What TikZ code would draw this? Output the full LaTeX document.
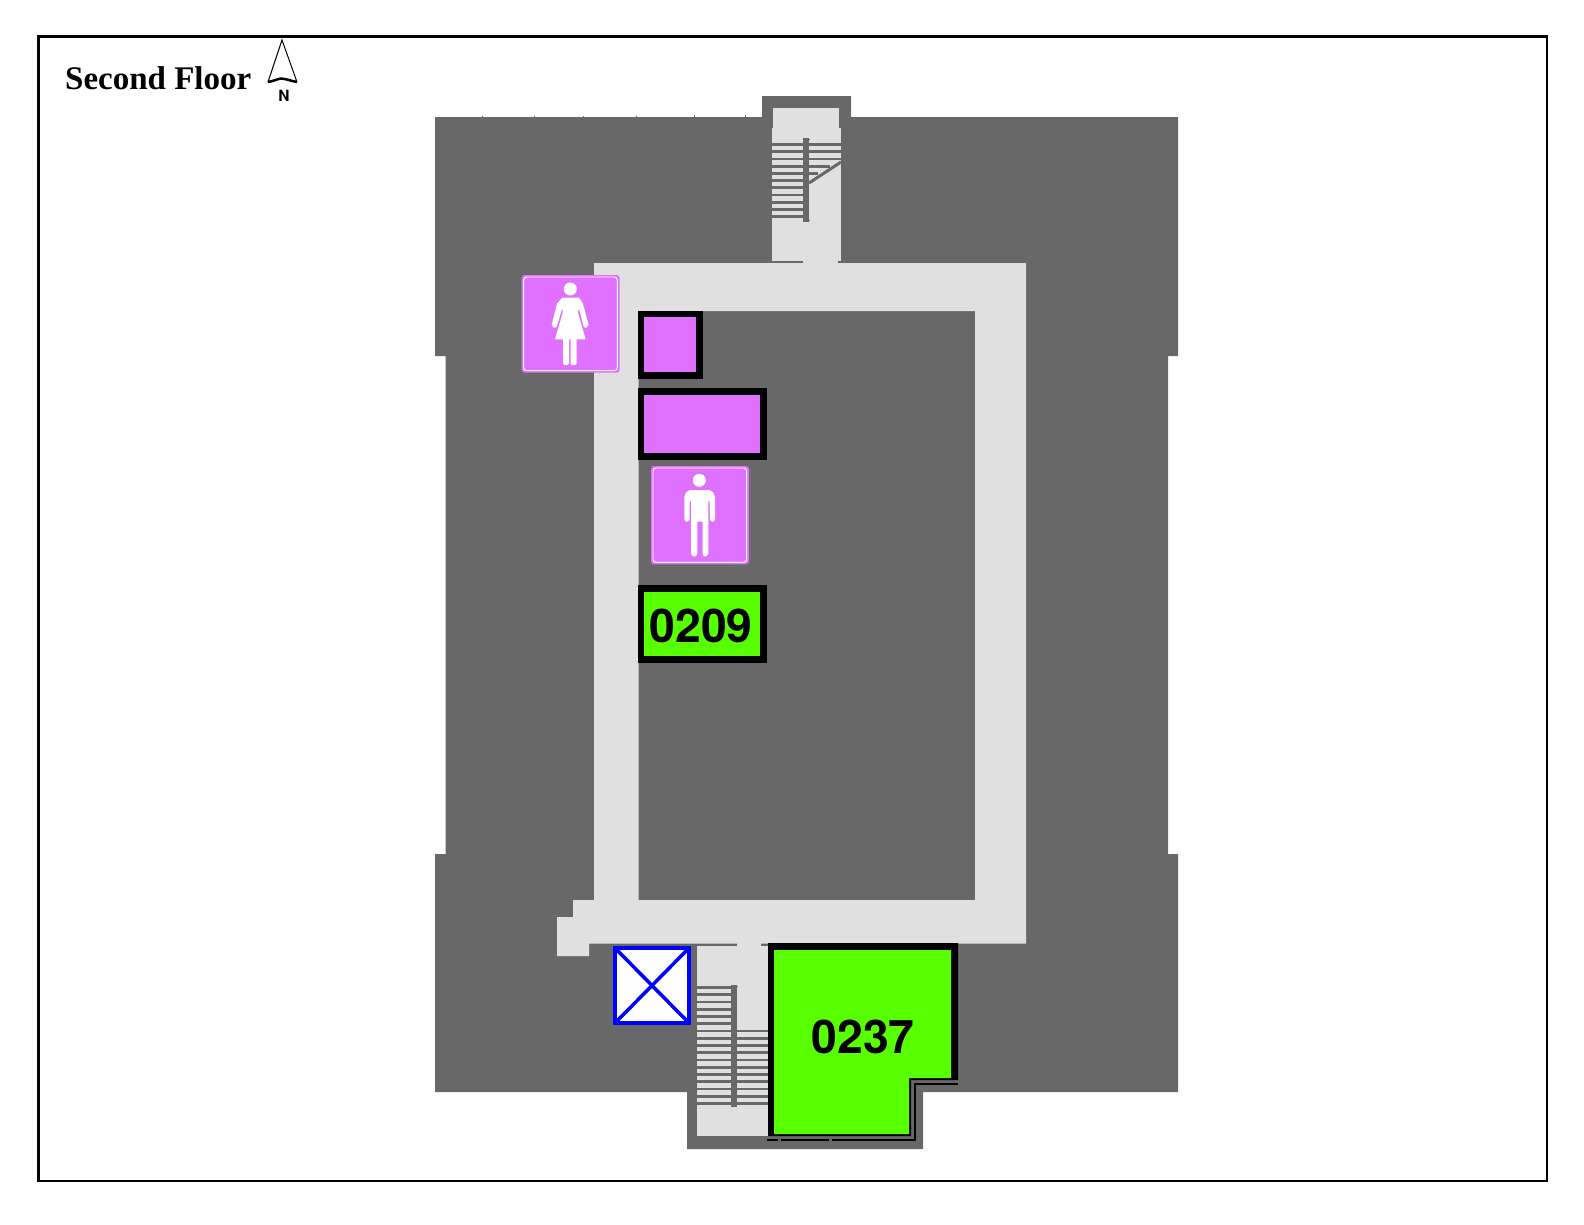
\documentclass[tikz,border=0pt]{standalone}
\usepackage{fontspec}
\setmainfont{Liberation Serif}
\newfontfamily\heros{TeX Gyre Heros}
\definecolor{wallgray}{HTML}{686868}
\definecolor{floorgray}{HTML}{E0E0E0}
\definecolor{roomgreen}{HTML}{58FF00}
\definecolor{restroom}{HTML}{E070FF}
\tikzset{
  wall/.style={fill=wallgray,draw=none},
  floorarea/.style={fill=floorgray,draw=none},
  tread/.style={draw=wallgray,line width=2.8pt},
  roomblack/.style={fill=black,draw=none},
  signbox/.style={fill=restroom,draw=none,rounded corners=3pt},
  signline/.style={draw=white,line width=0.9pt,rounded corners=3pt},
  figure/.style={fill=white,draw=none},
  roomlabel/.style={font=\heros\bfseries\fontsize{46.3}{47}\selectfont,text=black,inner sep=0pt},
}
\begin{document}
\begin{tikzpicture}[x=1pt,y=-1pt]
\useasboundingbox (0,0) rectangle (1584,1224);
\fill[white] (0,0) rectangle (1584,1224);
% frame
\draw[line width=2.8pt,black] (38.3,36.4) rectangle (1547,1181);
% building mass
\path[wall] (435,117) -- (762,117) -- (762,96) -- (851,96) -- (851,117) -- (1178,117)
  -- (1178,356) -- (1168,356) -- (1168,854) -- (1178,854) -- (1178,1092) -- (923,1092)
  -- (923,1149) -- (687,1149) -- (687,1092) -- (435,1092) -- (435,854) -- (445.5,854)
  -- (445.5,356) -- (435,356) -- cycle;
% roof ticks
\foreach \tx/\th in {482/1,534/1,583/1,636/1,694/2,745/2}
  \fill[wallgray] (\tx-0.5,117-\th) rectangle (\tx+0.5,117);
% corridor ring
\path[floorarea,even odd rule] (594,263) -- (1026,263) -- (1026,943.5) -- (589,943.5) -- (589,956)
  -- (557,956) -- (557,917) -- (573,917) -- (573,900) -- (594,900) -- cycle
  (638.5,311) -- (975,311) -- (975,900) -- (638.5,900) -- cycle;
% upper stair
\path[floorarea] (773,108) rectangle (839,128);
\path[floorarea] (772,128) rectangle (841,263);
\fill[wallgray] (772,261) rectangle (803,263);
\fill[wallgray] (838,261) rectangle (841,263);
\foreach \i in {0,...,10}
  \draw[tread] (772,144.5+7.2*\i) -- (803,144.5+7.2*\i);
\foreach \i in {0,1,2}
  \draw[tread] (809,144.5+7.2*\i) -- (841,144.5+7.2*\i);
\draw[tread] (809,166.1) -- (830,166.1);
\draw[tread] (809,173.3) -- (818,173.3);
\fill[wallgray] (803,138) rectangle (809,222);
\fill[wallgray] (809,138.5) rectangle (810,139.5);
\fill[wallgray] (809,220) rectangle (810,221);
\draw[wallgray,line width=3pt] (809,183) -- (841,162);
% lower stair
\path[floorarea] (697,946) rectangle (768,1136);
\path[floorarea] (737,943) rectangle (761,947);
\foreach \i in {0,...,16}
  \draw[tread] (697,987.5+7.25*\i) -- (731,987.5+7.25*\i);
\foreach \i in {6,...,16}
  \draw[tread] (737,987.5+7.25*\i) -- (769,987.5+7.25*\i);
\fill[wallgray] (731,985) rectangle (737,1107);
\fill[wallgray] (737,985.5) rectangle (738,986.5);
% elevator
\draw[blue,fill=white,line width=4pt] (615,948) rectangle (689,1023);
\draw[blue,line width=3.5pt] (615,948) -- (689,1023);
\draw[blue,line width=3.5pt] (689,948) -- (615,1023);
% restroom service rooms
\path[roomblack] (638,311) rectangle (703,379);
\fill[restroom] (644,317) rectangle (696,372);
\path[roomblack] (638,388) rectangle (767,460);
\fill[restroom] (644,395) rectangle (760,453);
% room 0209
\path[roomblack] (638,585) rectangle (767,663);
\fill[roomgreen] (644,592) rectangle (760,656);
\node[roomlabel] (r0209) at (701,626) {0209};
% room 0237
\path[roomblack] (768,943) -- (958,943) -- (958,1080) -- (911,1080) -- (911,1136) -- (768,1136) -- cycle;
\fill[roomgreen] (774,950) -- (951,950) -- (951,1078) -- (909,1078) -- (909,1134) -- (774,1134) -- cycle;
\node[roomlabel] (r0237) at (863,1037) {0237};
% exterior double wall lines
\fill[black] (914,1083.3) rectangle (958,1085);
\fill[black] (913.7,1083.3) rectangle (915.7,1141);
\fill[black] (767,1139) rectangle (778,1141);
\fill[black] (781,1139) rectangle (829,1141);
\fill[black] (832,1139) rectangle (915.7,1141);
% women's sign
\begin{scope}[shift={(505,265)},scale=1/3]
  \path[signbox] (50,30) rectangle (344,323);
  \draw[signline] (56,36) rectangle (337,317);
  \fill[white] (196,72) circle (19.5);
  \path[figure] (172,98) -- (222,98) -- (233,114) -- (251,180) -- (243,189) -- (236,185)
    -- (222,132) -- (218,140) -- (242,223) -- (215,223) -- (215,295) -- (210,300) -- (199,300)
    -- (197,295) -- (197,223) -- (192,223) -- (192,295) -- (188,300) -- (178,300) -- (174,295)
    -- (174,223) -- (150,223) -- (174,140) -- (172,130) -- (155,185) -- (147,189) -- (140,180) -- (156,116) -- cycle;
\end{scope}
% men's sign
\begin{scope}[shift={(635,455)},scale=1/3]
  \path[signbox] (48,33) rectangle (342,328);
  \draw[signline] (54,39) rectangle (335,322);
  \fill[white] (193,76) circle (19.5);
  \path[figure] (165,105) -- (222,105) -- (235,112) -- (240,126) -- (240,195) -- (233,201) -- (225,195)
    -- (224,138) -- (220,138) -- (220,296) -- (214,304) -- (206,304) -- (203,296) -- (203,200)
    -- (187,200) -- (187,296) -- (183,304) -- (173,304) -- (168,296) -- (168,138) -- (164,138)
    -- (164,195) -- (155,201) -- (148,195) -- (148,126) -- (153,112) -- cycle;
\end{scope}
% title
\node[anchor=base west,inner sep=0pt,font=\bfseries\fontsize{33}{33}\selectfont] (title) at (65,89) {Second Floor};
% north arrow
\coordinate (ntip) at (282,40);
\coordinate (nleft) at (268,82);
\coordinate (nright) at (297,82);
\draw[black,line width=1pt] (nleft) -- (ntip) -- (nright);
\draw[black,line width=2.5pt] (nleft) .. controls (274,81) and (277,79) .. (281,78.5) .. controls (287,79) and (291,81) .. (nright);
\node[font=\heros\bfseries\fontsize{15.5}{16}\selectfont,inner sep=0pt,anchor=base] (north) at (284,101) {N};
\end{tikzpicture}
\end{document}
